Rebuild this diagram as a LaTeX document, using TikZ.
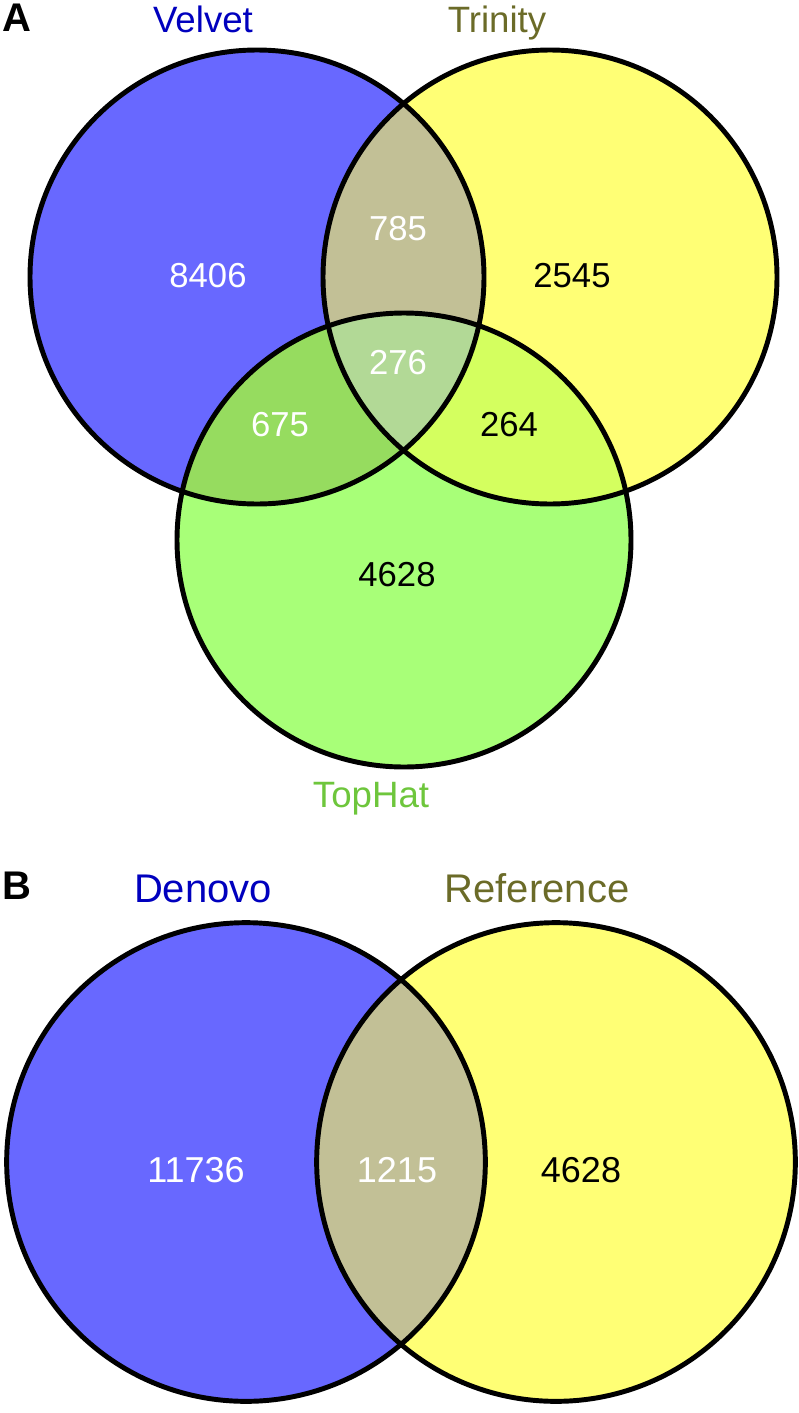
\documentclass[tikz,border=0pt]{standalone}
\usepackage{fontspec}
\setmainfont{Liberation Sans}
\definecolor{cV}{RGB}{104,104,255}
\definecolor{cT}{RGB}{255,255,117}
\definecolor{cH}{RGB}{168,255,120}
\definecolor{cVT}{RGB}{194,192,150}
\definecolor{cVH}{RGB}{150,220,95}
\definecolor{cTH}{RGB}{212,255,95}
\definecolor{cVTH}{RGB}{178,217,150}
\definecolor{lblue}{RGB}{0,0,190}
\definecolor{lolive}{RGB}{107,107,40}
\definecolor{lgreen}{RGB}{110,198,60}
\tikzset{
  outline/.style={draw=black,line width=3.7pt},
  num/.style={inner sep=0pt,font=\fontsize{26}{26}\selectfont},
  numb/.style={inner sep=0pt,font=\fontsize{27}{27}\selectfont},
  setlbl/.style={inner sep=0pt,anchor=base,font=\fontsize{27.5}{27.5}\selectfont},
  setlblb/.style={inner sep=0pt,anchor=base,font=\fontsize{30}{30}\selectfont},
  panel/.style={inner sep=0pt,anchor=base,font=\fontsize{30}{30}\selectfont\bfseries}
}
\begin{document}
\begin{tikzpicture}[x=0.75pt,y=-0.75pt]
\useasboundingbox (0,0) rectangle (799,1413);
\def\R{170.25pt}
\def\RB{179.5pt}
% panel A
\coordinate (V) at (257,277);
\coordinate (T) at (550,277);
\coordinate (H) at (404,540);
\fill[cV] (V) circle[radius=\R];
\fill[cT] (T) circle[radius=\R];
\fill[cH] (H) circle[radius=\R];
\begin{scope}
  \clip (V) circle[radius=\R];
  \fill[cVT] (T) circle[radius=\R];
  \fill[cVH] (H) circle[radius=\R];
\end{scope}
\begin{scope}
  \clip (T) circle[radius=\R];
  \fill[cTH] (H) circle[radius=\R];
  \clip (V) circle[radius=\R];
  \fill[cVTH] (H) circle[radius=\R];
\end{scope}
\draw[outline] (V) circle[radius=\R];
\draw[outline] (T) circle[radius=\R];
\draw[outline] (H) circle[radius=\R];
\node[panel] (pA) at (17,32) {A};
\node[setlbl,text=lblue] (lV) at (203,33) {Velvet};
\node[setlbl,text=lolive] (lT) at (497,33) {Trinity};
\node[setlbl,text=lgreen] (lH) at (371,807) {TopHat};
\node[num,text=white] (n8406) at (208,276) {8406};
\node[num,text=white] (n785) at (398,229) {785};
\node[num,text=black] (n2545) at (572,276) {2545};
\node[num,text=white] (n276) at (398,363) {276};
\node[num,text=white] (n675) at (280,425) {675};
\node[num,text=black] (n264) at (509,425) {264};
\node[num,text=black] (n4628a) at (397,575) {4628};
% panel B
\coordinate (D) at (246,1162);
\coordinate (F) at (556,1162);
\fill[cV] (D) circle[radius=\RB];
\fill[cT] (F) circle[radius=\RB];
\begin{scope}
  \clip (D) circle[radius=\RB];
  \fill[cVT] (F) circle[radius=\RB];
\end{scope}
\draw[outline] (D) circle[radius=\RB];
\draw[outline] (F) circle[radius=\RB];
\node[panel] (pB) at (17,899) {B};
\node[setlblb,text=lblue] (lD) at (203,902) {Denovo};
\node[setlblb,text=lolive] (lF) at (537,902) {Reference};
\node[numb,text=white] (n11736) at (196,1170) {11736};
\node[numb,text=white] (n1215) at (397,1170) {1215};
\node[numb,text=black] (n4628b) at (581,1170) {4628};
\end{tikzpicture}
\end{document}
